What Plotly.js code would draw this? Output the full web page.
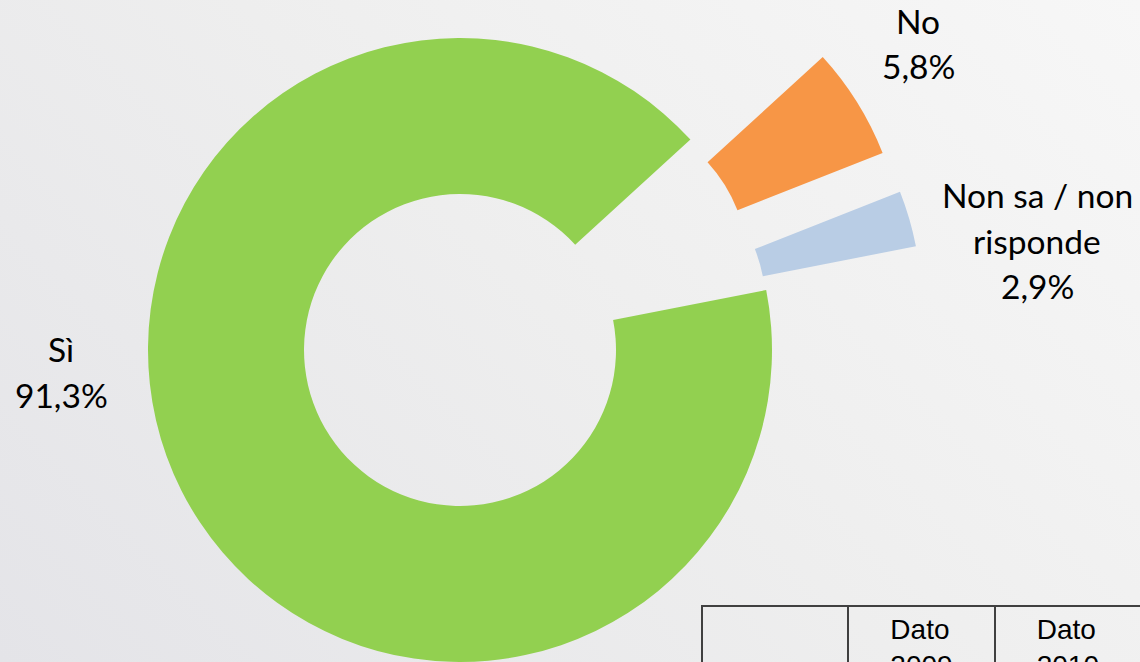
<!DOCTYPE html>
<html>
<head>
<meta charset="utf-8">
<script src="https://cdn.plot.ly/plotly-3.0.1.min.js"></script>
<style>
  html, body { margin: 0; padding: 0; width: 1140px; height: 662px; overflow: hidden; }
  body { background: linear-gradient(45deg, #e4e4e8 0%, #eeeeee 50%, #f7f7f7 100%); position: relative; }
  #chart { position: absolute; left: -8px; top: -118px; width: 1160px; height: 936px; }
</style>
</head>
<body>
<div id="chart"></div>
<script>
// ---- data ----
var categories = ["No", "Non sa / non risponde", "Sì"];
var labelLines = [["No"], ["Non sa / non", "risponde"], ["Sì"]];
var values = [5.8, 2.9, 91.3];
var tableHeader = ["", "Dato<br>2009", "Dato<br>2010"];

// ---- layout helpers (page px -> paper coords of the oversized div) ----
var DIV_L = -8, DIV_T = -118, DIV_W = 1160, DIV_H = 936;
function px(x) { return (x - DIV_L) / DIV_W; }
function py(y) { return 1 - (y - DIV_T) / DIV_H; }

var colors = ["#F79646", "#B9CDE5", "#92D050"];
var pulls = [0.5, 0.5, 0];

function fmtPct(v) { return v.toFixed(1).replace('.', ',') + '%'; }

// label anchor: centre x and first baseline y (page px)
var labelPos = [
  { x: 918, y: 33 },
  { x: 1037, y: 207 },
  { x: 61, y: 361 }
];
var LINE_STEP = 45.5;
var annotations = [];
categories.forEach(function (c, i) {
  var lines = labelLines[i].concat([fmtPct(values[i])]);
  lines.forEach(function (t, k) {
    var base = labelPos[i].y + k * LINE_STEP;
    annotations.push({
      text: t, showarrow: false, xref: 'paper', yref: 'paper',
      x: px(labelPos[i].x), y: py(base - 12),
      xanchor: 'center', yanchor: 'middle',
      font: { family: 'Lato, sans-serif', size: 33.5, color: '#000000' }
    });
  });
});

var pie = {
  type: 'pie',
  labels: categories,
  values: values,
  sort: false,
  direction: 'clockwise',
  rotation: 47.6,
  hole: 0.5,
  pull: pulls,
  marker: { colors: colors, line: { width: 0 } },
  textinfo: 'none',
  hoverinfo: 'skip',
  showlegend: false,
  domain: { x: [0, 936 / DIV_W], y: [0, 1] }
};

var table = {
  type: 'table',
  domain: { x: [px(702), px(1141)], y: [0, py(605.5)] },
  columnwidth: [1, 1, 1],
  header: {
    values: tableHeader,
    align: 'center',
    height: 80,
    fill: { color: 'rgba(0,0,0,0)' },
    line: { color: '#404040', width: 2 },
    font: { family: 'Liberation Sans, Arial, sans-serif', size: 28, color: '#000000' }
  },
  cells: {
    values: [[""], [""], [""]],
    align: 'center',
    height: 60,
    fill: { color: 'rgba(0,0,0,0)' },
    line: { color: '#404040', width: 2 },
    font: { family: 'Liberation Sans, Arial, sans-serif', size: 28, color: '#000000' }
  }
};

var layout = {
  width: DIV_W, height: DIV_H,
  margin: { l: 0, r: 0, t: 0, b: 0 },
  paper_bgcolor: 'rgba(0,0,0,0)',
  plot_bgcolor: 'rgba(0,0,0,0)',
  showlegend: false,
  annotations: annotations
};

Plotly.newPlot('chart', [pie, table], layout, { staticPlot: true, displayModeBar: false });
</script>
</body>
</html>
